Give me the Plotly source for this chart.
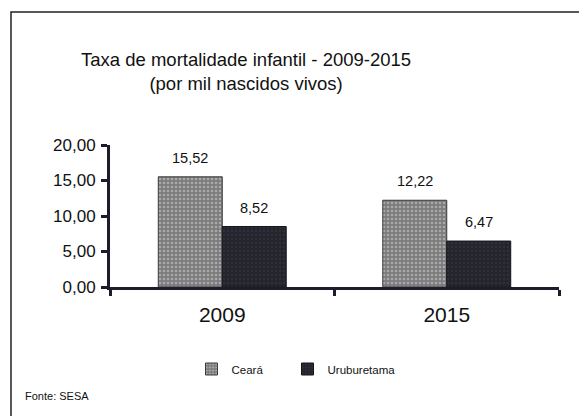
import plotly.graph_objects as go

categories = ["2009", "2015"]
ceara = [15.52, 12.22]
uruburetama = [8.52, 6.47]
series_names = ["Ceará", "Uruburetama"]
y_ticks = [0, 5, 10, 15, 20]

FONT = "Liberation Sans, Arial, sans-serif"
AXIS = "#1c1c2c"
OFF = 8  # page body margin

W, H = 587, 416
L = 110 - OFF
T = 145 - OFF
B = H - (287 - OFF)
R = W - (559 - OFF)
pw, ph = W - L - R, H - T - B

def px_x(p):
    return (p - OFF - L) / pw

def px_y(p):
    return (H - B - (p - OFF)) / ph

fig = go.Figure()
fig.add_trace(go.Bar(
    x=categories, y=ceara, name=series_names[0], legend="legend", showlegend=True,
    marker=dict(color="#858585", line=dict(color="#3a3a3a", width=1),
                pattern=dict(shape=".", fgcolor="#d8d8d8", bgcolor="#7c7c7c", size=4, solidity=0.35)),
))
fig.add_trace(go.Bar(
    x=categories, y=uruburetama, name=series_names[1], legend="legend2", showlegend=True,
    marker=dict(color="#26262f", line=dict(color="#15151c", width=1),
                pattern=dict(shape=".", fgcolor="#3c3c48", bgcolor="#24242c", size=4, solidity=0.3)),
))

annotations = []
for vals, shift in ((ceara, -32), (uruburetama, 32)):
    for i, v in enumerate(vals):
        annotations.append(dict(
            x=i, y=v, xref="x", yref="y", text=f"{v:.2f}".replace(".", ","),
            showarrow=False, xshift=shift, yshift=19, yanchor="middle",
            font=dict(family=FONT, size=14.5, color="#111"),
        ))
annotations.append(dict(
    x=px_x(23), y=px_y(396), xref="paper", yref="paper", text="Fonte: SESA",
    showarrow=False, xanchor="left", yanchor="middle",
    font=dict(family=FONT, size=11, color="#111"),
))
annotations.append(dict(
    x=px_x(246), y=px_y(47), xref="paper", yref="paper",
    text="Taxa de mortalidade infantil - 2009-2015<br>(por mil nascidos vivos)",
    showarrow=False, xanchor="center", yanchor="top", align="center",
    font=dict(family=FONT, size=18.5, color="#111"),
))

legend_common = dict(
    orientation="h", xref="container", yref="container", xanchor="center",
    y=1 - (369 - OFF) / H, yanchor="middle",
    font=dict(family=FONT, size=11.5, color="#111"),
    itemwidth=30, bgcolor="rgba(0,0,0,0)", visible=True,
)

fig.update_layout(
    width=W, height=H,
    showlegend=True,
    margin=dict(l=L, r=R, t=T, b=B, pad=0),
    paper_bgcolor="white", plot_bgcolor="white",
    barmode="group", bargap=0.43, bargroupgap=0,
    separators=",.",
    font=dict(family=FONT, color="#111"),
    legend=dict(legend_common, x=(230 - OFF) / W),
    legend2=dict(legend_common, x=(344 - OFF) / W),
    xaxis=dict(
        type="category", range=[-0.5, len(categories) - 0.5],
        showline=True, linecolor=AXIS, linewidth=3,
        ticks="outside", tickson="boundaries", ticklen=6, tickwidth=3, tickcolor=AXIS,
        tickfont=dict(family=FONT, size=21, color="#111"),
        ticklabelstandoff=7,
        showgrid=False, zeroline=False,
    ),
    yaxis=dict(
        range=[0, 20], tickvals=y_ticks, tickformat=".2f",
        showline=True, linecolor=AXIS, linewidth=3,
        ticks="outside", ticklen=6, tickwidth=3, tickcolor=AXIS,
        tickfont=dict(family=FONT, size=17, color="#111"),
        ticklabelstandoff=2,
        showgrid=False, zeroline=False,
    ),
    annotations=annotations,
    shapes=[dict(
        type="rect", xref="paper", yref="paper",
        x0=px_x(11), x1=px_x(640), y0=px_y(470), y1=px_y(12),
        line=dict(color="#222", width=1.5), fillcolor="rgba(0,0,0,0)", layer="below",
    )],
)

fig.write_html("out.html")
